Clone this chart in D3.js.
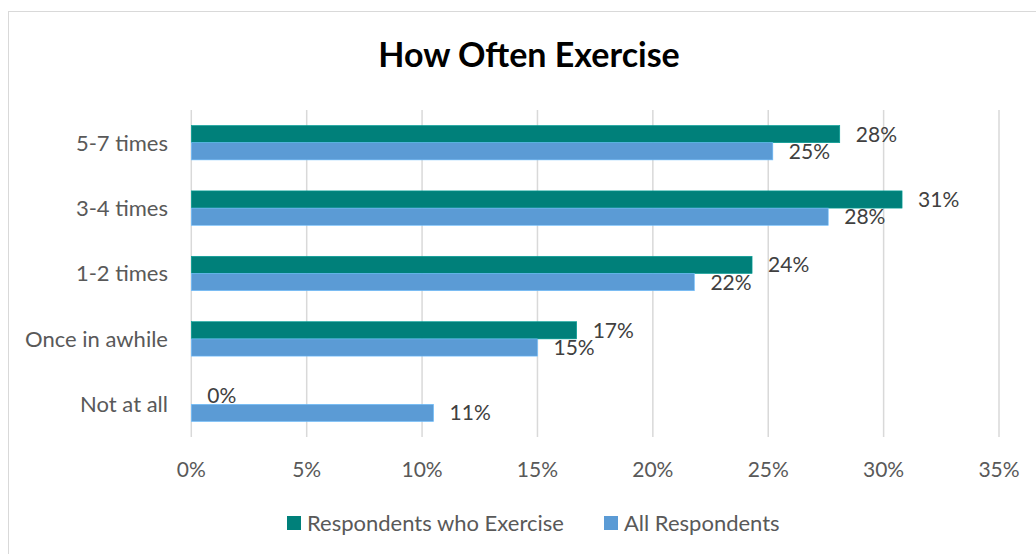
<!DOCTYPE html>
<html>
<head>
<meta charset="utf-8">
<script src="https://cdn.jsdelivr.net/npm/d3@7"></script>
<style>
  body { margin: 0; background: #fff; }
  text { font-family: Lato, "Open Sans", sans-serif; }
</style>
</head>
<body>
<div id="chart"></div>
<script>
// data
const categories = ["5-7 times", "3-4 times", "1-2 times", "Once in awhile", "Not at all"];
const seriesNames = ["Respondents who Exercise", "All Respondents"];
const exercisers = [28.1, 30.8, 24.3, 16.7, 0];
const allResp = [25.2, 27.6, 21.8, 15.0, 10.5];
const xTicks = [0, 5, 10, 15, 20, 25, 30, 35];

const width = 1036, height = 554;
const colors = ["#00807A", "#5B9BD5"];

const svg = d3.select("#chart").append("svg")
  .attr("width", width)
  .attr("height", height);

// chart area border (right/bottom fall outside the crop)
svg.append("rect")
  .attr("x", 8.5).attr("y", 11.5)
  .attr("width", 1100).attr("height", 600)
  .attr("fill", "none")
  .attr("stroke", "#d9d9d9");

// title
svg.append("text")
  .attr("x", 529).attr("y", 67)
  .attr("text-anchor", "middle")
  .style("font-size", "34px")
  .style("font-weight", "bold")
  .attr("fill", "#000")
  .text("How Often Exercise");

const plot = { left: 191.3, right: 999, top: 110, bottom: 437 };

const x = d3.scaleLinear()
  .domain([0, 35])
  .range([plot.left, plot.right]);

const y = d3.scaleBand()
  .domain(categories)
  .range([plot.top, plot.bottom]);

const ySub = d3.scaleBand()
  .domain(d3.range(seriesNames.length))
  .range([0, y.bandwidth()])
  .paddingInner(0)
  .paddingOuter(0.9);

// gridlines
svg.append("g")
  .selectAll("line")
  .data(xTicks)
  .join("line")
  .attr("x1", d => x(d)).attr("x2", d => x(d))
  .attr("y1", plot.top).attr("y2", plot.bottom)
  .attr("stroke", "#d9d9d9")
  .attr("stroke-width", 1.5);

// x tick labels
svg.append("g")
  .selectAll("text")
  .data(xTicks)
  .join("text")
  .attr("x", d => x(d))
  .attr("y", 477)
  .attr("text-anchor", "middle")
  .attr("fill", "#595959")
  .style("font-size", "21px")
  .text(d => d + "%");

// category labels
svg.append("g")
  .selectAll("text")
  .data(categories)
  .join("text")
  .attr("x", 168)
  .attr("y", d => y(d) + y.bandwidth() / 2)
  .attr("dy", "0.36em")
  .attr("text-anchor", "end")
  .attr("fill", "#595959")
  .style("font-size", "22px")
  .text(d => d);

const series = [exercisers, allResp];

series.forEach((vals, si) => {
  const g = svg.append("g");
  const rows = categories.map((c, i) => ({ cat: c, v: vals[i] }));

  g.selectAll("rect")
    .data(rows)
    .join("rect")
    .attr("x", x(0))
    .attr("y", d => y(d.cat) + ySub(si))
    .attr("width", d => x(d.v) - x(0))
    .attr("height", ySub.bandwidth())
    .attr("fill", colors[si])
    .attr("stroke", d => d.v > 0 ? d3.color(colors[si]).brighter(0.6) : "none")
    .attr("stroke-width", 0.6);

  g.selectAll("text")
    .data(rows)
    .join("text")
    .attr("x", d => x(d.v) + 16)
    .attr("y", d => y(d.cat) + ySub(si) + ySub.bandwidth() / 2)
    .attr("dy", "0.36em")
    .attr("fill", "#404040")
    .style("font-size", "21px")
    .text(d => Math.round(d.v) + "%");
});

// legend
const legendX = [287, 604];
const legend = svg.append("g")
  .selectAll("g")
  .data(seriesNames)
  .join("g")
  .attr("transform", (d, i) => `translate(${legendX[i]}, 516)`);

legend.append("rect")
  .attr("width", 14).attr("height", 14)
  .attr("fill", (d, i) => colors[i]);

legend.append("text")
  .attr("x", 20).attr("y", 7)
  .attr("dy", "0.36em")
  .attr("fill", "#595959")
  .style("font-size", "22px")
  .text(d => d);
</script>
</body>
</html>
